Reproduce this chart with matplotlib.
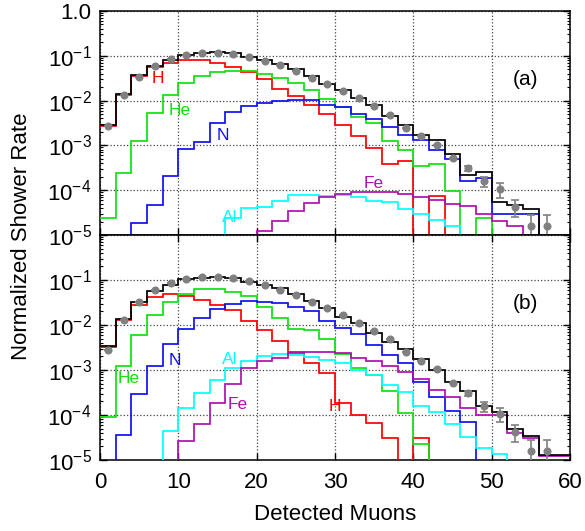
import numpy as np
import matplotlib
matplotlib.use('Agg')
import matplotlib.pyplot as plt
from matplotlib.ticker import FixedLocator, LogLocator, NullFormatter

plt.rcParams['font.family'] = ['Liberation Sans', 'DejaVu Sans']
plt.rcParams['mathtext.fontset'] = 'custom'
plt.rcParams['mathtext.rm'] = 'Liberation Sans'
plt.rcParams['mathtext.it'] = 'Liberation Sans:italic'
plt.rcParams['mathtext.bf'] = 'Liberation Sans:bold'

# Histogram bins: 2 muons wide, 0..60
bin_edges = list(range(0, 61, 2))
# Measured points sit at the bin centres 1, 3, ..., 57
data_x = list(range(1, 58, 2))

# All rates are given as log10 values, None = empty bin.
data_log = [-2.56, -1.88, -1.48, -1.23, -1.07, -0.975, -0.93, -0.935, -0.965,
            -1.03, -1.115, -1.215, -1.335, -1.485, -1.62, -1.78, -1.945,
            -2.13, -2.32, -2.61, -2.795, -2.98, -3.29, -3.515, -3.80, -3.97,
            -4.37, -4.79, -4.79]
data_err = [0, 0, 0, 0, 0, 0, 0, 0, 0, 0, 0, 0, 0, 0, 0, 0, 0, 0, 0, 0,
            0, 0, 1.0e-5, 3.5e-5, 4.0e-5, 3.9e-5, 1.7e-5, 1.2e-5, 1.2e-5]

# panel (a)
a_total = [-2.54, -1.85, -1.43, -1.22, -1.09, -0.99, -0.93, -0.91, -0.94,
           -1.02, -1.09, -1.18, -1.29, -1.46, -1.63, -1.77, -1.94, -2.10,
           -2.34, -2.55, -2.76, -2.88, -3.20, -3.66, -3.60, -4.27, -4.33,
           -4.42, None, None]
a_H = [-2.56, -1.87, -1.46, -1.26, -1.15, -1.10, -1.10, -1.15, -1.25, -1.36,
       -1.52, -1.73, -1.89, -2.10, -2.30, -2.54, -2.78, -3.05, -3.42, -3.35,
       None, -4.14, None, None, None, None, None, None, None, None]
a_He = [-4.62, -3.62, -2.90, -2.27, -1.88, -1.61, -1.46, -1.36, -1.33, -1.35,
        -1.40, -1.49, -1.61, -1.77, -1.96, -2.14, -2.36, -2.49, -2.90, -3.10,
        -3.47, -3.42, -4.02, None, -4.62, None, None, None, None, None]
a_N = [None, None, -4.73, -4.34, -3.68, -3.09, -2.92, -2.51, -2.25, -2.13,
       -2.05, -2.01, -1.98, -1.98, -2.10, -2.14, -2.29, -2.41, -2.59, -2.77,
       -2.88, -3.10, -3.31, -3.79, -3.72, -4.53, -4.53, -4.53, None, None]
a_Al = [None, None, None, None, None, None, None, None, -4.62, -4.40, -4.38,
        -4.25, -4.10, -4.10, -4.13, -4.10, -4.16, -4.24, -4.27, -4.42, -4.53,
        -4.66, -4.79, None, None, None, None, None, None, None]
a_Fe = [None, None, None, None, None, None, None, None, None, None, -4.90,
        -4.68, -4.47, -4.29, -4.16, -4.09, -4.05, -4.03, -4.04, -4.09, -4.16,
        -4.21, -4.30, -4.36, -4.53, -4.68, -4.79, None, None, None]

# panel (b)
b_total = [-2.46, -1.87, -1.48, -1.24, -1.10, -0.985, -0.95, -0.94, -0.965,
           -1.04, -1.11, -1.185, -1.31, -1.46, -1.615, -1.815, -1.96, -2.185,
           -2.37, -2.53, -2.76, -3.00, -3.26, -3.46, -3.81, -3.94, -4.31,
           -4.47, -4.89, -4.89]
b_H = [-2.48, -1.89, -1.555, -1.37, -1.32, -1.355, -1.445, -1.555, -1.665,
       -1.90, -2.11, -2.355, -2.61, -2.85, -3.06, -3.73, -4.00, -4.18, -4.50,
       None, -4.50, None, None, None, None, None, None, None, None, None]
b_He = [-4.04, -2.91, -2.22, -1.78, -1.48, -1.30, -1.21, -1.21, -1.26, -1.355,
        -1.59, -1.85, -2.08, -2.10, -2.31, -2.65, -2.95, -3.11, -3.47, -3.96,
        -4.65, None, None, None, None, None, None, None, None, None]
b_N = [None, -4.44, -3.54, -2.91, -2.43, -2.09, -1.85, -1.64, -1.54, -1.47,
       -1.48, -1.52, -1.61, -1.69, -1.90, -2.07, -2.21, -2.44, -2.67, -2.85,
       -3.26, -3.61, -3.90, -4.15, None, None, None, None, None, None]
b_Al = [None, None, None, None, -4.36, -3.85, -3.52, -3.22, -2.96, -2.79,
        -2.68, -2.65, -2.67, -2.70, -2.78, -2.85, -2.99, -3.11, -3.33, -3.48,
        -3.80, -3.93, -4.21, -4.48, -4.73, -4.87, None, None, None, None]
b_Fe = [None, None, None, None, None, -4.58, -4.21, -3.74, -3.32, -2.96,
        -2.81, -2.73, -2.63, -2.61, -2.61, -2.63, -2.73, -2.81, -2.91, -3.04,
        -3.20, -3.44, -3.61, -3.84, -3.99, -3.99, -4.41, -4.52, -4.91, -4.91]

species = ['H', 'He', 'N', 'Al', 'Fe']
colors = {'H': '#ff0000', 'He': '#10e010', 'N': '#1010f0',
          'Al': '#00ffff', 'Fe': '#b010b0'}

# label positions (x, log10 rate) for each panel
a_labels = {'H': (7.4, -1.50), 'He': (10.2, -2.21), 'N': (15.7, -2.77),
            'Al': (16.6, -4.60), 'Fe': (35.0, -3.84)}
b_labels = {'H': (30.0, -3.82), 'He': (3.7, -3.18), 'N': (9.6, -2.78),
            'Al': (16.5, -2.76), 'Fe': (17.6, -3.76)}


def to_rate(logs):
    return np.array([0.0 if v is None else 10.0 ** v for v in logs])


def draw_panel(ax, hists, total, labels, tag, top_label):
    for name in species:
        ax.stairs(to_rate(hists[name]), bin_edges, baseline=None,
                  color=colors[name], lw=1.25, zorder=3)
    ax.stairs(to_rate(total), bin_edges, baseline=None, color='black',
              lw=1.25, zorder=4)
    ax.errorbar(data_x, to_rate(data_log), yerr=data_err, fmt='o',
                color='#808080', ms=4.8, elinewidth=1.2, capsize=3,
                capthick=1.2, zorder=5)

    for name in species:
        x, y = labels[name]
        ax.text(x, 10.0 ** y, name, color=colors[name], fontsize=12.5,
                ha='center', va='center', zorder=6)
    ax.text(54.3, 10.0 ** -1.52, tag, fontsize=15, ha='center', va='center')

    ax.set_yscale('log')
    ax.set_xlim(0, 60)
    ax.set_ylim(1e-5, 1.0)
    ax.set_xticks(range(0, 61, 10))
    decades = [1e-5, 1e-4, 1e-3, 1e-2, 1e-1, 1.0]
    ax.yaxis.set_major_locator(FixedLocator(decades))
    ax.set_yticklabels([r'$\mathdefault{10^{-5}}$', r'$\mathdefault{10^{-4}}$',
                        r'$\mathdefault{10^{-3}}$', r'$\mathdefault{10^{-2}}$',
                        r'$\mathdefault{10^{-1}}$', top_label])
    ax.yaxis.set_minor_locator(LogLocator(base=10, subs=np.arange(2, 10),
                                          numticks=20))
    ax.yaxis.set_minor_formatter(NullFormatter())
    ax.grid(True, which='major', ls=':', color='#444444', lw=0.9)
    ax.tick_params(which='both', direction='in', left=True, right=True,
                   labelsize=16)
    ax.tick_params(which='major', length=5, width=1.0)
    ax.tick_params(which='minor', length=2.5, width=0.8)
    ax.tick_params(axis='y', pad=6)
    ax.tick_params(axis='x', pad=9)
    for sp in ax.spines.values():
        sp.set_linewidth(1.1)


fig = plt.figure(figsize=(5.85, 5.31), dpi=100)
ax_a = fig.add_axes([100 / 585, 1 - 235 / 531, 470 / 585, 224 / 531])
ax_b = fig.add_axes([100 / 585, 1 - 460 / 531, 470 / 585, 225 / 531],
                    sharex=ax_a)

draw_panel(ax_a, dict(H=a_H, He=a_He, N=a_N, Al=a_Al, Fe=a_Fe), a_total,
           a_labels, '(a)', '1.0')
draw_panel(ax_b, dict(H=b_H, He=b_He, N=b_N, Al=b_Al, Fe=b_Fe), b_total,
           b_labels, '(b)', '')
ax_a.tick_params(axis='x', labelbottom=False)
ax_b.tick_params(axis='x', top=True)

fig.text(22 / 585, 1 - 236 / 531, 'Normalized Shower Rate', rotation=90,
         ha='center', va='center', fontsize=16)
fig.text(335 / 585, 1 - 515 / 531, 'Detected Muons', ha='center',
         va='center', fontsize=16)

fig.savefig('out.png', dpi=100)
